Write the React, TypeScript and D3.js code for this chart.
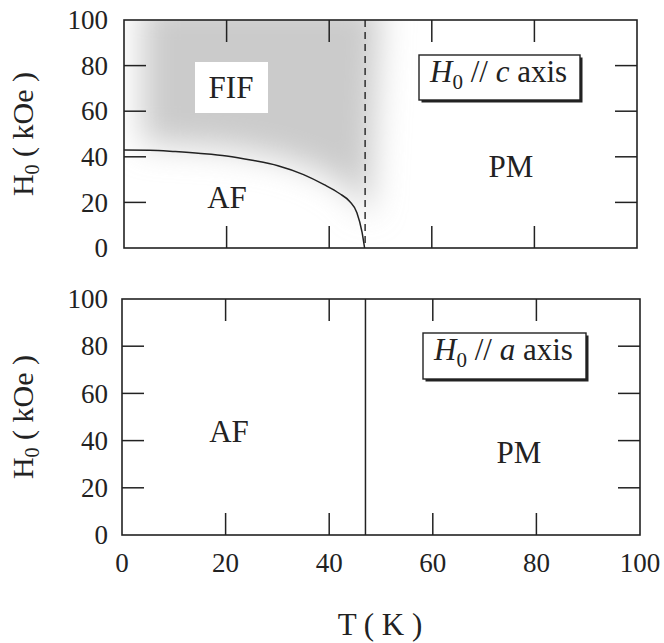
import React from "react";
import * as d3 from "d3";

const xTicks = [0, 20, 40, 60, 80, 100];
const yTicks = [0, 20, 40, 60, 80, 100];
const innerTicks = [20, 40, 60, 80];

// phase boundary AF / FIF (H // c)
const boundaryT = [0, 5, 10, 15, 20, 25, 30, 35, 39, 42, 44, 45.4, 46.4, 46.9];
const boundaryH = [43, 42.9, 42.3, 41.5, 40.4, 38.5, 36.1, 32.2, 27.8, 23.9, 20.4, 15.5, 7, 0];
const neelTc = 47.0; // dashed line top panel
const neelTa = 47.0; // solid line bottom panel

const FONT = "Liberation Serif";
const FS = 27; // tick labels
const LS = 31; // labels in plot / legend / axis title

type Panel = {
  left: number; right: number; top: number; bottom: number;
};

const topP: Panel = { left: 124, right: 637, top: 20, bottom: 248 };
const botP: Panel = { left: 122, right: 640, top: 299, bottom: 535 };

function Frame({ p, x, y, showX }: { p: Panel; x: d3.ScaleLinear<number, number>; y: d3.ScaleLinear<number, number>; showX: boolean }) {
  const tl = 22;
  return (
    <g>
      {innerTicks.map((t) => (
        <g key={"x" + t}>
          <line x1={x(t)} x2={x(t)} y1={p.bottom} y2={p.bottom - tl} stroke="#222" strokeWidth={1.5} />
          <line x1={x(t)} x2={x(t)} y1={p.top} y2={p.top + tl} stroke="#222" strokeWidth={1.5} />
        </g>
      ))}
      {innerTicks.map((t) => (
        <g key={"y" + t}>
          <line x1={p.left} x2={p.left + tl} y1={y(t)} y2={y(t)} stroke="#222" strokeWidth={1.5} />
          <line x1={p.right} x2={p.right - tl} y1={y(t)} y2={y(t)} stroke="#222" strokeWidth={1.5} />
        </g>
      ))}
      <rect x={p.left} y={p.top} width={p.right - p.left} height={p.bottom - p.top} fill="none" stroke="#222" strokeWidth={1.6} />
      {yTicks.map((t) => (
        <text key={"yl" + t} x={108} y={y(t)} dy="0.34em" textAnchor="end" fontFamily={FONT} fontSize={FS} fill="#222">
          {t}
        </text>
      ))}
      {showX &&
        xTicks.map((t) => (
          <text key={"xl" + t} x={x(t)} y={572} textAnchor="middle" fontFamily={FONT} fontSize={FS} fill="#222">
            {t}
          </text>
        ))}
      <text
        transform={`translate(33,${(p.top + p.bottom) / 2}) rotate(-90)`}
        textAnchor="middle"
        fontFamily={FONT}
        fontSize={30}
        fill="#222"
      >
        <tspan>H</tspan>
        <tspan fontSize={20} dy={6}>0</tspan>
        <tspan dy={-6}> ( kOe )</tspan>
      </text>
    </g>
  );
}

function Legend({ x, y, w, h, letter }: { x: number; y: number; w: number; h: number; letter: string }) {
  return (
    <g>
      <rect x={x + 2.5} y={y + 2.5} width={w} height={h} fill="#222" />
      <rect x={x} y={y} width={w} height={h} fill="#fff" stroke="#222" strokeWidth={1.4} />
      <text x={x + 11} y={y + 27} fontFamily={FONT} fontSize={LS} fill="#222">
        <tspan fontStyle="italic">H</tspan>
        <tspan fontSize={21} dy={7}>0</tspan>
        <tspan dy={-7}> // </tspan>
        <tspan fontStyle="italic">{letter}</tspan>
        <tspan> axis</tspan>
      </text>
    </g>
  );
}

export default function App() {
  const xT = d3.scaleLinear().domain([0, 100]).range([topP.left, topP.right]);
  const yT = d3.scaleLinear().domain([0, 100]).range([topP.bottom, topP.top]);
  const xB = d3.scaleLinear().domain([0, 100]).range([botP.left, botP.right]);
  const yB = d3.scaleLinear().domain([0, 100]).range([botP.bottom, botP.top]);

  const pts: [number, number][] = boundaryT.map((t, i) => [t, boundaryH[i]]);
  const line = d3
    .line<[number, number]>()
    .x((d) => xT(d[0]))
    .y((d) => yT(d[1]))
    .curve(d3.curveMonotoneX);
  const curvePath = line(pts) || "";

  // shaded FIF region: above the boundary, blurred
  const shadePts: [number, number][] = [[3.5, 108], [3.5, 46], [20, 44], [30, 40], [38, 34], [44, 26], [48, 14], [50, 108]];
  const shadePath =
    d3
      .line<[number, number]>()
      .x((d) => xT(d[0]))
      .y((d) => yT(d[1]))
      .curve(d3.curveLinearClosed)(shadePts) || "";

  return (
    <svg width={664} height={643} style={{ position: "absolute", left: 0, top: 0 }}>
      <defs>
        <filter id="blur" x="-50%" y="-50%" width="200%" height="200%">
          <feGaussianBlur stdDeviation={16} />
        </filter>
        <clipPath id="clipTop">
          <rect x={topP.left} y={topP.top} width={topP.right - topP.left} height={topP.bottom - topP.top} />
        </clipPath>
      </defs>
      <rect width={664} height={643} fill="#fff" />
      {/* top panel */}
      <g clipPath="url(#clipTop)">
        <path d={shadePath} fill="#cbcbcb" filter="url(#blur)" />
      </g>
      <rect x={195} y={62} width={73} height={51} fill="#fff" />
      <text x={231} y={98} textAnchor="middle" fontFamily={FONT} fontSize={LS} fill="#222">FIF</text>
      <text x={227} y={208} textAnchor="middle" fontFamily={FONT} fontSize={LS} fill="#222">AF</text>
      <text x={511} y={177} textAnchor="middle" fontFamily={FONT} fontSize={LS} fill="#222">PM</text>
      <path d={curvePath} fill="none" stroke="#222" strokeWidth={1.5} />
      <line x1={xT(neelTc)} x2={xT(neelTc)} y1={topP.top} y2={topP.bottom} stroke="#222" strokeWidth={1.4} strokeDasharray="7,5" />
      <Frame p={topP} x={xT} y={yT} showX={false} />
      <Legend x={419} y={55} w={161} h={45} letter="c" />

      {/* bottom panel */}
      <line x1={xB(neelTa)} x2={xB(neelTa)} y1={botP.top} y2={botP.bottom} stroke="#222" strokeWidth={1.5} />
      <text x={229} y={442} textAnchor="middle" fontFamily={FONT} fontSize={LS} fill="#222">AF</text>
      <text x={519} y={463} textAnchor="middle" fontFamily={FONT} fontSize={LS} fill="#222">PM</text>
      <Frame p={botP} x={xB} y={yB} showX={true} />
      <Legend x={423} y={333} w={163} h={46} letter="a" />

      <text x={380} y={635} textAnchor="middle" fontFamily={FONT} fontSize={LS} fill="#222">T ( K )</text>
    </svg>
  );
}
